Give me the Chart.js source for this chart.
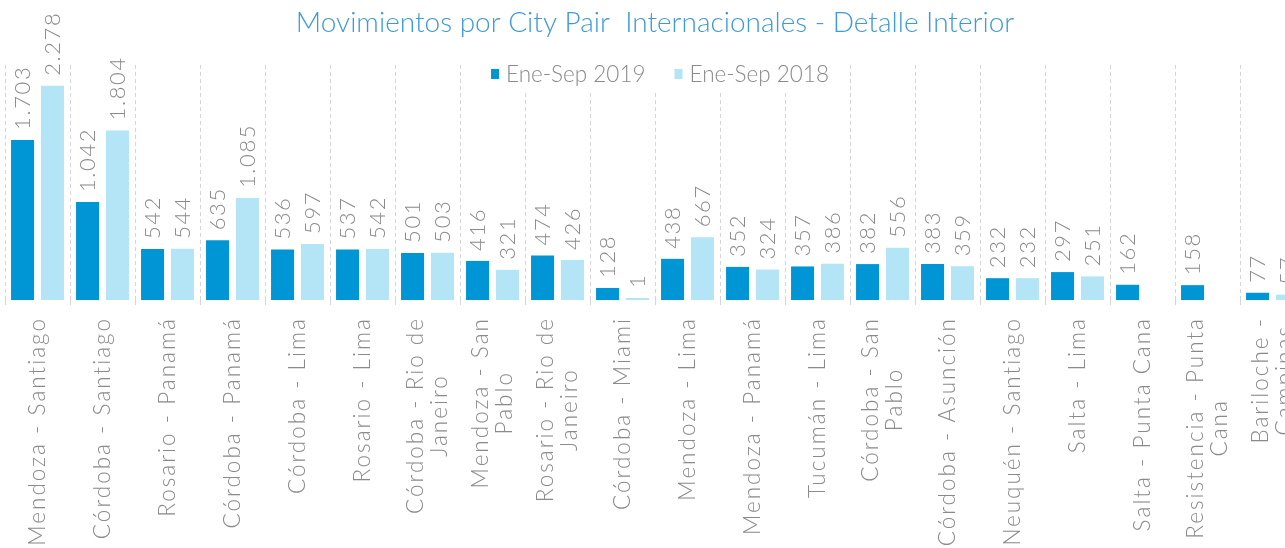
<!DOCTYPE html>
<html>
<head>
<meta charset="utf-8">
<script src="https://cdn.jsdelivr.net/npm/chart.js@4.4.1/dist/chart.umd.min.js"></script>
<style>
  html, body { margin: 0; padding: 0; background: #fff; overflow: hidden; }
  #wrap { width: 1310px; height: 548px; }
</style>
</head>
<body>
<div id="wrap"><canvas id="chart-area" width="1310" height="548"></canvas></div>
<script>
// datos
var rutas = [
  'Mendoza - Santiago', 'Córdoba - Santiago', 'Rosario - Panamá', 'Córdoba - Panamá',
  'Córdoba - Lima', 'Rosario - Lima', ['Córdoba - Rio de', 'Janeiro'], ['Mendoza - San', 'Pablo'],
  ['Rosario - Rio de', 'Janeiro'], 'Córdoba - Miami', 'Mendoza - Lima', 'Mendoza - Panamá',
  'Tucumán - Lima', ['Córdoba - San', 'Pablo'], 'Córdoba - Asunción', 'Neuquén - Santiago',
  'Salta - Lima', 'Salta - Punta Cana', ['Resistencia - Punta', 'Cana'], ['Bariloche -', 'Campinas']
];
var mov2019 = [1703, 1042, 542, 635, 536, 537, 501, 416, 474, 128, 438, 352, 357, 382, 383, 232, 297, 162, 158, 77];
var mov2018 = [2278, 1804, 544, 1085, 597, 542, 503, 321, 426, 1, 667, 324, 386, 556, 359, 232, 251, null, null, 57];

var titulo = 'Movimientos por City Pair  Internacionales - Detalle Interior';
var fuente = 'Lato, "Open Sans", sans-serif';
var gris = '#8a8a8a';

function miles(v) {
  return String(v).replace(/\B(?=(\d{3})+(?!\d))/g, '.');
}

// titulo
var encabezado = {
  id: 'encabezado',
  afterDraw: function(chart) {
    var ctx = chart.ctx;
    ctx.save();
    ctx.font = '300 28px ' + fuente;
    ctx.fillStyle = '#3d9ad8';
    ctx.textAlign = 'center';
    ctx.textBaseline = 'middle';
    ctx.fillText(titulo, 655, 23);
    ctx.restore();
  }
};

// nombres de las rutas, rotados y con lineas centradas entre si
var rotulos = {
  id: 'rotulos',
  afterDraw: function(chart) {
    var ctx = chart.ctx;
    var sx = chart.scales.x;
    var lh = 24;
    ctx.save();
    ctx.letterSpacing = '2px';
    ctx.font = '300 22.5px ' + fuente;
    ctx.fillStyle = gris;
    ctx.textAlign = 'center';
    ctx.textBaseline = 'middle';
    chart.data.labels.forEach(function(lab, i) {
      var lineas = Array.isArray(lab) ? lab : [lab];
      var w = Math.max.apply(null, lineas.map(function(l) { return ctx.measureText(l).width; }));
      var cx = sx.getPixelForTick(i);
      ctx.save();
      ctx.translate(cx, sx.top + 17);
      ctx.rotate(-Math.PI / 2);
      lineas.forEach(function(l, k) {
        ctx.fillText(l, -w / 2, (k - (lineas.length - 1) / 2) * lh);
      });
      ctx.restore();
    });
    ctx.restore();
  }
};

// etiquetas de valor rotadas sobre cada barra
var etiquetas = {
  id: 'etiquetas',
  afterDatasetsDraw: function(chart) {
    var ctx = chart.ctx;
    ctx.save();
    ctx.letterSpacing = '1.6px';
    ctx.fillStyle = gris;
    ctx.font = '300 22px ' + fuente;
    ctx.textAlign = 'left';
    ctx.textBaseline = 'middle';
    chart.data.datasets.forEach(function(ds, i) {
      var meta = chart.getDatasetMeta(i);
      meta.data.forEach(function(bar, j) {
        var v = ds.data[j];
        if (v === null || v === undefined) return;
        ctx.save();
        ctx.translate(bar.x, bar.y - 10);
        ctx.rotate(-Math.PI / 2);
        ctx.fillText(miles(v), 0, 0);
        ctx.restore();
      });
    });
    ctx.restore();
  }
};

// leyenda dentro del area, tapando las lineas punteadas
var leyenda = {
  id: 'leyenda',
  afterDatasetsDraw: function(chart) {
    var ctx = chart.ctx;
    ctx.save();
    ctx.font = '300 22.5px ' + fuente;
    var items = chart.data.datasets.map(function(ds) {
      return { txt: ds.label, color: ds.backgroundColor, w: 8 + 7 + ctx.measureText(ds.label).width };
    });
    var sep = 29;
    var total = items.reduce(function(a, it) { return a + it.w; }, 0) + sep * (items.length - 1);
    var x = 660 - total / 2;
    var y = 74;
    ctx.fillStyle = '#fff';
    ctx.fillRect(x - 20, 60, total + 40, 32);
    ctx.textBaseline = 'middle';
    ctx.textAlign = 'left';
    items.forEach(function(it) {
      ctx.fillStyle = it.color;
      ctx.fillRect(x, y - 5, 8, 10);
      ctx.fillStyle = gris;
      ctx.fillText(it.txt, x + 15, y + 1);
      x += it.w + sep;
    });
    ctx.restore();
  }
};

var config = {
  type: 'bar',
  data: {
    labels: rutas,
    datasets: [{
      label: 'Ene-Sep 2019',
      data: mov2019,
      backgroundColor: '#0096d6',
      categoryPercentage: 0.92,
      barPercentage: 0.77
    }, {
      label: 'Ene-Sep 2018',
      data: mov2018,
      backgroundColor: '#b3e5f6',
      categoryPercentage: 0.92,
      barPercentage: 0.77,
      minBarLength: 2
    }]
  },
  options: {
    responsive: false,
    animation: false,
    layout: { padding: { left: 5, right: 5, top: 65, bottom: 0 } },
    plugins: {
      legend: { display: false },
      tooltip: { enabled: false },
      title: { display: false }
    },
    scales: {
      x: {
        border: { display: false, dash: [4, 3] },
        grid: {
          offset: true,
          color: '#d6d6d6',
          lineWidth: 1,
          drawTicks: true,
          tickLength: 5
        },
        ticks: { display: false, autoSkip: false },
        afterFit: function(s) {
          s.height = 248;
          s.paddingLeft = 0;
          s.paddingRight = 0;
        }
      },
      y: {
        display: false,
        min: 0,
        max: 2500
      }
    }
  },
  plugins: [etiquetas, leyenda, rotulos, encabezado]
};

var ctx = document.getElementById('chart-area').getContext('2d');
window.myBar = new Chart(ctx, config);
</script>
</body>
</html>
